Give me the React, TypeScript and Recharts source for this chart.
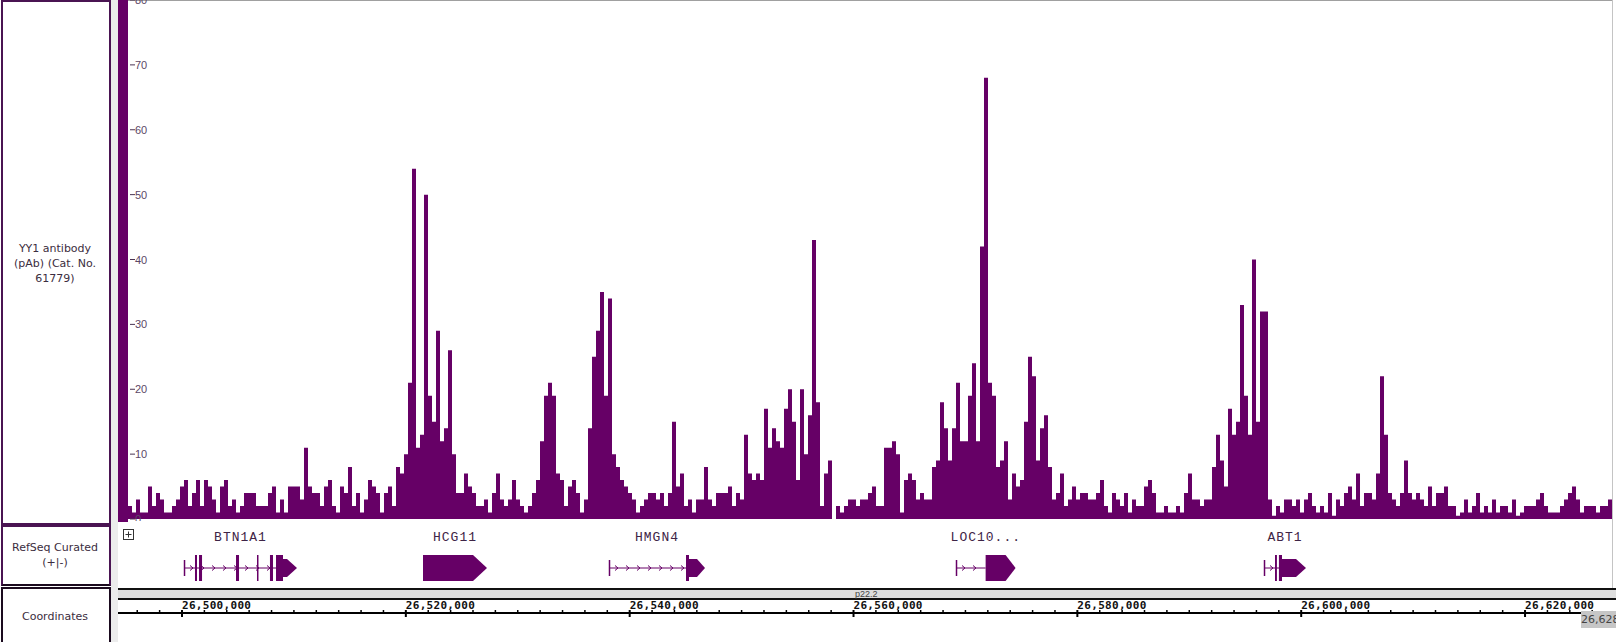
import React from "react";
import { Area, ComposedChart, Line, ReferenceArea, XAxis, YAxis } from "recharts";

const PURPLE = "#660066";
const VIEW_START = 26495175;
const VIEW_END = 26627770;
const BIN_BP = 357.4;

// YY1 signal, one value per bin, read left to right
const signalBtn1a1 = [2, 1, 3, 1, 1, 5, 2, 4, 3, 1, 1, 2, 3, 5, 6, 2, 4, 6, 2, 6, 5, 3, 1, 5, 6, 2, 3, 1, 2, 4, 4, 4, 2, 2, 2, 4, 5, 1, 3, 1, 5, 5, 5, 3, 11, 5, 4, 4, 2, 5, 6, 2, 1];
const signalHcg11 = [5, 4, 8, 2, 4, 1, 3, 6, 5, 4, 1, 4, 5, 2, 8, 7, 10, 21, 54, 11, 13, 50, 19, 15, 29, 12, 14, 26, 10, 4, 4, 7, 5, 4, 2, 2, 3, 1, 4, 7, 3, 2, 3, 6, 3, 2, 1, 2, 4, 6, 12, 19, 21];
const signalHmgn4 = [19, 7, 6, 2, 5, 6, 4, 1, 3, 14, 25, 29, 35, 19, 34, 10, 8, 6, 5, 4, 3, 1, 2, 3, 4, 4, 3, 4, 2, 4, 15, 5, 7, 2, 3, 1, 3, 3, 8, 3, 2, 4, 4, 4, 5, 2, 4, 3, 13, 7, 6, 7, 6];
const signalMid = [17, 11, 14, 12, 11, 17, 20, 15, 6, 20, 10, 16, 43, 18, 2, 7, 9, 0, 2, 1, 2, 3, 3, 2, 3, 3, 4, 5, 2, 2, 11, 11, 12, 10, 1, 6, 7, 6, 3, 4, 3, 3, 8, 9, 18, 14, 9, 14, 21, 12, 12, 19, 24];
const signalLoc = [12, 42, 68, 21, 19, 8, 9, 12, 3, 7, 5, 6, 15, 25, 22, 9, 14, 16, 8, 3, 4, 7, 2, 3, 5, 3, 4, 4, 3, 3, 4, 6, 2, 1, 4, 3, 2, 4, 1, 3, 2, 2, 5, 6, 4, 1, 1, 2, 1, 1, 2, 1, 4];
const signalAbt1 = [7, 3, 3, 2, 3, 3, 8, 13, 9, 5, 17, 13, 15, 33, 19, 13, 40, 15, 32, 32, 3, 0.5, 2, 1, 3, 3, 2, 3, 1, 3, 4, 2, 1, 2, 1, 4, 0.5, 3, 2, 4, 5, 3, 7, 2, 4, 4, 3, 7, 22, 13, 4, 3, 2];
const signalRight = [4, 9, 4, 3, 4, 3, 2, 5, 2, 4, 4, 5, 2, 2, 0.5, 1, 3, 1, 2, 4, 1, 2, 1, 3, 1, 2, 2, 1, 3, 0.5, 1, 2, 2, 2, 3, 4, 2, 1, 1, 1, 2, 3, 4, 5, 3, 1, 2, 2, 2, 1, 2, 2, 3];

const yTicks = [0, 10, 20, 30, 40, 50, 60, 70, 80];
const coordLabels = [26500000, 26520000, 26540000, 26560000, 26580000, 26600000, 26620000];
const MINOR_STEP = 2000;

// RefSeq genes (bp)
const genes = [
  { name: "BTN1A1", start: 26500180, end: 26510275, exons: [[26501160, 26501340], [26501520, 26501790], [26504825, 26505095], [26506700, 26506790], [26507860, 26508130], [26508400, 26509025]], arrow: [26509025, 26510275], tall: false, tip: 10 },
  { name: "HCG11", start: 26521533, end: 26527252, exons: [], arrow: [26521533, 26527252], tall: true, tip: 14 },
  { name: "HMGN4", start: 26538152, end: 26546730, exons: [[26545032, 26545300]], arrow: [26545300, 26546730], tall: false, tip: 8 },
  { name: "LOC10...", start: 26569157, end: 26574481, exons: [], arrow: [26571802, 26574481], tall: true, tip: 10 },
  { name: "ABT1", start: 26596677, end: 26600428, exons: [[26597659, 26597831], [26598010, 26598285]], arrow: [26598285, 26600428], tall: false, tip: 10 },
];

const signal = [...signalBtn1a1, ...signalHcg11, ...signalHmgn4, ...signalMid, ...signalLoc, ...signalAbt1, ...signalRight];
const signalData = signal.map((v, i) => ({ pos: VIEW_START + i * BIN_BP, v }));
signalData.push({ pos: VIEW_END, v: signal[signal.length - 1] });

const minorTicks: number[] = [];
for (let t = Math.ceil(VIEW_START / MINOR_STEP) * MINOR_STEP; t <= VIEW_END; t += MINOR_STEP) minorTicks.push(t);

const edgeData = [{ pos: VIEW_START, y: 0 }, { pos: VIEW_END, y: 0 }];

function SignalTick(props: any) {
  const { y, payload } = props;
  return (
    <g>
      <line x1={130} x2={135} y1={y} y2={y} stroke="#4a3352" strokeWidth={1} />
      <text x={135} y={y} dy={4} fontSize={11} fontFamily="Liberation Sans, Arial, sans-serif" fill="#5c4766">
        {payload.value}
      </text>
    </g>
  );
}

function CoordTick(props: any) {
  const { x, y, payload } = props;
  const major = coordLabels.includes(payload.value);
  return (
    <g>
      <line x1={x} x2={x} y1={y - 3} y2={major ? y + 4 : y} stroke="#000" strokeWidth={major ? 2 : 1.5} />
      {major && (
        <text x={x} y={y - 4} fontSize={11} fontWeight="bold" letterSpacing={0.3} fontFamily="DejaVu Sans Mono, monospace" fill="#111">
          {payload.value.toLocaleString("en-US")}
        </text>
      )}
    </g>
  );
}

const intronShape = (props: any) => {
  const { x, y, width, height } = props;
  const cy = y + height / 2;
  const marks = [];
  for (let cx = x + 9; cx < x + width - 3; cx += 11) {
    marks.push(<path key={cx} d={`M${cx - 3},${cy - 2.5} L${cx},${cy} L${cx - 3},${cy + 2.5}`} stroke={PURPLE} fill="none" strokeWidth={1} />);
  }
  return (
    <g>
      <line x1={x} x2={x + width} y1={cy} y2={cy} stroke={PURPLE} strokeWidth={1} />
      <line x1={x + 0.5} x2={x + 0.5} y1={cy - 8} y2={cy + 8} stroke={PURPLE} strokeWidth={1.5} />
      {marks}
    </g>
  );
};

const arrowShape = (tip: number) => (props: any) => {
  const { x, y, width, height } = props;
  const xe = x + width;
  const xb = Math.max(x, xe - tip);
  const cy = y + height / 2;
  return <path d={`M${x},${y} L${xb},${y} L${xe},${cy} L${xb},${y + height} L${x},${y + height} Z`} fill={PURPLE} />;
};

const exonShape = (props: any) => {
  const { x, y, width, height } = props;
  return <rect x={x} y={y} width={Math.max(width, 1.5)} height={height} fill={PURPLE} />;
};

const labelShape = (name: string) => (props: any) => {
  const { x, y, width, height } = props;
  return (
    <text x={x + width / 2} y={y + height / 2} dy={4} textAnchor="middle" fontSize={13} letterSpacing={1} fontFamily="Liberation Mono, DejaVu Sans Mono, monospace" fill="#3e2446">
      {name}
    </text>
  );
};

const boxText: React.CSSProperties = {
  position: "absolute",
  left: 0,
  width: 110,
  textAlign: "center",
  fontFamily: "DejaVu Sans, sans-serif",
  fontSize: 11,
  lineHeight: "15px",
  color: "#3b2d40",
};

export default function App() {
  return (
    <div style={{ position: "absolute", left: 0, top: 0, width: 1616, height: 642, background: "#fff", overflow: "hidden" }}>
      {/* left name panel */}
      <div style={{ position: "absolute", left: 111, top: 0, width: 7, height: 642, background: "#ececec" }} />
      <div style={{ position: "absolute", left: 1, top: 0, width: 106, height: 521, border: "2px solid #4a1452" }} />
      <div style={{ ...boxText, top: 241 }}>
        YY1 antibody
        <br />
        (pAb) (Cat. No.
        <br />
        61779)
      </div>
      <div style={{ position: "absolute", left: 1, top: 525, width: 106, height: 57, border: "2px solid #4a1452", borderBottomColor: "#1a0a1e" }} />
      <div style={{ ...boxText, top: 540 }}>
        RefSeq Curated
        <br />
        (+|-)
      </div>
      <div style={{ position: "absolute", left: 1, top: 587, width: 106, height: 60, border: "2px solid #1a0a1e" }} />
      <div style={{ ...boxText, top: 609 }}>Coordinates</div>

      {/* data panel frame */}
      <div style={{ position: "absolute", left: 118, top: 0, width: 10, height: 522, background: PURPLE }} />
      <div style={{ position: "absolute", left: 128, top: 0, width: 1484, height: 1, background: "#a0a0a0" }} />
      <div style={{ position: "absolute", left: 1612, top: 0, width: 1, height: 588, background: "#c4c4c4" }} />

      <div style={{ position: "absolute", left: 0, top: 0 }}>
        <ComposedChart width={1616} height={521} data={signalData} margin={{ top: 0, right: 4, bottom: 2, left: 128 }}>
          <XAxis dataKey="pos" type="number" domain={[VIEW_START, VIEW_END]} hide allowDataOverflow />
          <YAxis type="number" domain={[0, 80]} ticks={yTicks} interval={0} mirror axisLine={false} tickLine={false} tick={<SignalTick />} />
          <Area type="stepAfter" dataKey="v" baseValue={0} stroke="none" fill={PURPLE} fillOpacity={1} dot={false} activeDot={false} isAnimationActive={false} />
        </ComposedChart>
      </div>

      {/* RefSeq track */}
      <svg style={{ position: "absolute", left: 123, top: 529 }} width={11} height={11}>
        <rect x={0.5} y={0.5} width={10} height={10} fill="#fff" stroke="#333" />
        <line x1={2.5} x2={8.5} y1={5.5} y2={5.5} stroke="#333" />
        <line x1={5.5} x2={5.5} y1={2.5} y2={8.5} stroke="#333" />
      </svg>
      <div style={{ position: "absolute", left: 0, top: 523 }}>
        <ComposedChart width={1616} height={62} data={edgeData} margin={{ top: 0, right: 4, bottom: 0, left: 128 }}>
          <XAxis dataKey="pos" type="number" domain={[VIEW_START, VIEW_END]} hide />
          <YAxis type="number" domain={[0, 62]} reversed hide />
          <Line dataKey="y" stroke="none" dot={false} activeDot={false} isAnimationActive={false} />
          {genes.map((g) => (
            <ReferenceArea key={g.name + "-lbl"} x1={g.start} x2={g.end} y1={8} y2={20} shape={labelShape(g.name)} />
          ))}
          {genes
            .filter((g) => g.start < g.arrow[0])
            .map((g) => (
              <ReferenceArea key={g.name + "-intron"} x1={g.start} x2={g.arrow[0]} y1={44} y2={46} shape={intronShape} />
            ))}
          {genes.flatMap((g) =>
            g.exons.map((e, i) => (
              <ReferenceArea key={g.name + "-ex" + i} x1={e[0]} x2={e[1]} y1={32} y2={58} shape={exonShape} />
            ))
          )}
          {genes.map((g) => (
            <ReferenceArea key={g.name + "-arrow"} x1={g.arrow[0]} x2={g.arrow[1]} y1={g.tall ? 32 : 36} y2={g.tall ? 58 : 54} shape={arrowShape(g.tip)} />
          ))}
        </ComposedChart>
      </div>

      {/* coordinates track */}
      <div style={{ position: "absolute", left: 118, top: 588, width: 1498, height: 2, background: "#111" }} />
      <div style={{ position: "absolute", left: 118, top: 590, width: 1498, height: 8, background: "#dedede" }} />
      <div style={{ position: "absolute", left: 118, top: 598, width: 1498, height: 2, background: "#111" }} />
      <div style={{ position: "absolute", left: 855, top: 589, fontFamily: "Liberation Sans, sans-serif", fontSize: 9, color: "#444" }}>p22.2</div>
      <div style={{ position: "absolute", left: 118, top: 612, width: 1498, height: 2, background: "#000" }} />
      <div style={{ position: "absolute", left: 0, top: 587 }}>
        <ComposedChart width={1616} height={55} data={edgeData} margin={{ top: 0, right: 4, bottom: 0, left: 128 }}>
          <XAxis
            orientation="top"
            dataKey="pos"
            type="number"
            domain={[VIEW_START, VIEW_END]}
            ticks={minorTicks}
            interval={0}
            height={26}
            tickSize={0}
            tickMargin={0}
            axisLine={false}
            tick={<CoordTick />}
          />
          <YAxis type="number" domain={[0, 1]} hide />
          <Line dataKey="y" stroke="none" dot={false} activeDot={false} isAnimationActive={false} />
        </ComposedChart>
      </div>
      <div
        style={{
          position: "absolute",
          left: 1581,
          top: 611,
          width: 35,
          height: 17,
          background: "#c6c6c6",
          overflow: "hidden",
          whiteSpace: "nowrap",
          fontFamily: "DejaVu Sans, sans-serif",
          fontSize: 11,
          lineHeight: "17px",
          color: "#444",
        }}
      >
        26,628,000
      </div>
    </div>
  );
}
